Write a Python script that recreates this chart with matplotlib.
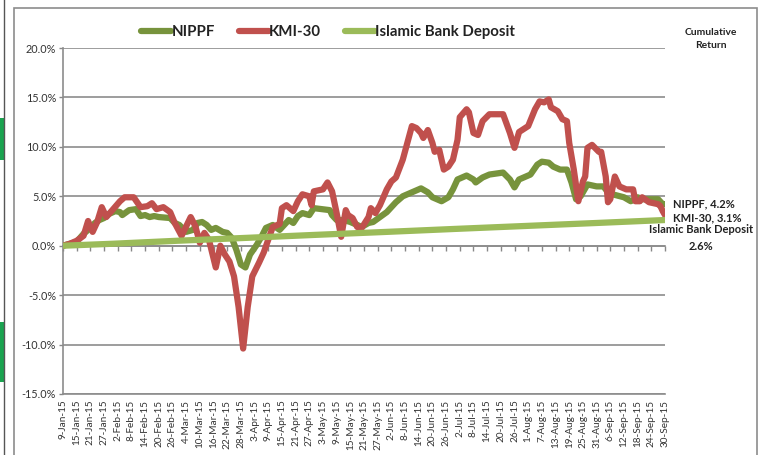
import matplotlib
matplotlib.use("Agg")
import matplotlib.pyplot as plt
from matplotlib.patches import Rectangle
from matplotlib.lines import Line2D
import pandas as pd

plt.rcParams['font.family'] = ['Lato', 'DejaVu Sans']

# ---------------- data (cumulative return, %) ----------------
nippf_dates = ['01-09', '01-15', '01-18', '01-21', '01-23', '01-25', '01-27', '01-29',
               '02-01', '02-03', '02-04', '02-07', '02-10', '02-12', '02-14', '02-16',
               '02-18', '02-20', '02-25', '02-27', '03-01', '03-04', '03-07', '03-09',
               '03-11', '03-13', '03-15', '03-17', '03-20', '03-22', '03-24', '03-26',
               '03-28', '03-30', '04-01', '04-04', '04-06', '04-08', '04-11', '04-14',
               '04-16', '04-18', '04-20', '04-22', '04-24', '04-27', '04-29', '05-06',
               '05-07', '05-09', '05-12', '05-15', '05-18', '05-20', '05-23', '05-25',
               '05-28', '05-31', '06-04', '06-07', '06-12', '06-15', '06-18', '06-20',
               '06-22', '06-24', '06-27', '06-29', '07-01', '07-05', '07-08', '07-09',
               '07-12', '07-15', '07-21', '07-24', '07-26', '07-28', '08-02', '08-05',
               '08-07', '08-10', '08-12', '08-15', '08-18', '08-20', '08-22', '08-24',
               '08-27', '08-31', '09-03', '09-05', '09-07', '09-12', '09-15', '09-18',
               '09-20', '09-27', '09-29', '09-30']
nippf_values = [0.0, 0.4, 1.2, 1.8, 2.3, 2.6, 2.8, 3.2,
                3.5, 3.4, 3.1, 3.6, 3.7, 3.0, 3.1, 2.9,
                3.0, 2.9, 2.8, 2.3, 2.1, 1.4, 1.6, 2.3,
                2.4, 2.1, 1.6, 1.8, 1.4, 1.3, 0.8, -0.4,
                -1.9, -2.2, -0.9, 0.1, 0.9, 1.8, 2.1, 1.6,
                2.1, 2.6, 2.3, 3.0, 3.3, 3.1, 3.8, 3.6,
                3.1, 2.6, 2.6, 2.4, 2.1, 1.9, 2.3, 2.4,
                2.9, 3.4, 4.4, 5.0, 5.5, 5.8, 5.4, 4.9,
                4.7, 4.5, 4.9, 5.7, 6.7, 7.1, 6.7, 6.4,
                6.9, 7.2, 7.4, 6.7, 5.9, 6.7, 7.2, 8.2,
                8.5, 8.4, 8.0, 7.7, 7.7, 6.4, 4.7, 5.0,
                6.2, 6.0, 6.0, 5.4, 5.2, 4.9, 4.5, 4.9,
                4.7, 4.7, 4.2, 4.2]

kmi_dates = ['01-09', '01-12', '01-15', '01-18', '01-20', '01-22', '01-24', '01-26',
             '01-28', '01-31', '02-03', '02-05', '02-09', '02-12', '02-15', '02-17',
             '02-19', '02-22', '02-25', '02-27', '03-02', '03-06', '03-08', '03-10',
             '03-12', '03-14', '03-17', '03-19', '03-21', '03-23', '03-25', '03-27',
             '03-29', '03-31', '04-02', '04-05', '04-07', '04-09', '04-11', '04-14',
             '04-15', '04-17', '04-20', '04-22', '04-24', '04-27', '04-28', '04-29',
             '05-03', '05-05', '05-07', '05-09', '05-11', '05-13', '05-14', '05-16',
             '05-18', '05-20', '05-23', '05-24', '05-26', '05-28', '05-31', '06-02',
             '06-04', '06-07', '06-09', '06-11', '06-13', '06-15', '06-16', '06-18',
             '06-20', '06-21', '06-23', '06-25', '06-27', '06-29', '07-01', '07-02',
             '07-05', '07-06', '07-08', '07-10', '07-12', '07-15', '07-21', '07-24',
             '07-26', '07-28', '08-01', '08-04', '08-06', '08-08', '08-10', '08-11',
             '08-14', '08-16', '08-18', '08-19', '08-21', '08-23', '08-25', '08-26',
             '08-27', '08-29', '09-01', '09-02', '09-04', '09-05', '09-06', '09-08',
             '09-10', '09-13', '09-16', '09-17', '09-19', '09-20', '09-23', '09-27',
             '09-28', '09-29', '09-30']
kmi_values = [0.0, 0.2, 0.5, 1.0, 2.5, 1.4, 2.4, 3.9,
              2.9, 3.7, 4.5, 4.9, 4.9, 3.9, 4.0, 4.3,
              3.7, 3.9, 3.4, 2.3, 1.0, 2.9, 2.0, 0.3,
              1.3, 0.6, -2.2, 0.0, -0.9, -1.6, -3.1, -6.2,
              -10.4, -6.2, -3.1, -1.7, -0.7, 0.6, 1.9, 2.2,
              3.8, 4.1, 3.5, 4.5, 5.2, 5.0, 4.1, 5.5,
              5.7, 6.4, 5.5, 3.3, 0.9, 3.6, 3.1, 2.8,
              1.9, 1.8, 2.9, 3.8, 3.3, 4.1, 5.7, 6.5,
              6.9, 8.7, 10.4, 12.1, 11.9, 11.4, 10.9, 11.7,
              10.4, 9.5, 9.7, 7.7, 8.0, 8.7, 10.7, 13.0,
              13.8, 13.5, 11.4, 11.2, 12.6, 13.3, 13.3, 11.4,
              9.9, 11.5, 12.1, 13.8, 14.6, 14.5, 14.8, 14.0,
              13.6, 12.8, 12.6, 10.4, 7.7, 4.5, 6.5, 7.0,
              9.9, 10.2, 9.5, 9.5, 7.0, 4.4, 4.7, 7.0,
              6.0, 5.7, 5.7, 4.5, 4.5, 4.9, 4.4, 4.2,
              4.0, 3.5, 3.1]

bank_dates = ['01-09', '01-31', '02-28', '03-31', '04-30', '05-31', '06-30',
              '07-31', '08-31', '09-30']
bank_values = [0.0, 0.2, 0.5, 0.8, 1.1, 1.4, 1.7, 2.0, 2.3, 2.6]

series_names = ['NIPPF', 'KMI-30', 'Islamic Bank Deposit']
series_colors = ['#77933C', '#C0504D', '#9BBB59']
y_ticks = [-15, -10, -5, 0, 5, 10, 15, 20]
year = '2015'
tick_step_days = 6


def to_dt(lst):
    return pd.to_datetime([f'{year}-{d}' for d in lst])


nx, kx, bx = to_dt(nippf_dates), to_dt(kmi_dates), to_dt(bank_dates)

# ---------------- figure ----------------
fig = plt.figure(figsize=(7.65, 4.55), dpi=100)
fig.patch.set_facecolor('white')

# spreadsheet clutter + chart frame
fig.add_artist(Rectangle((14 / 765, -0.05), (757 - 14) / 765, (455 - 8) / 455 + 0.05,
                         transform=fig.transFigure, fill=False, edgecolor='#8c8c8c',
                         linewidth=1.2))
fig.add_artist(Line2D([4 / 765, 4 / 765], [0, 1], transform=fig.transFigure,
                      color='#555555', linewidth=1.0))
fig.add_artist(Rectangle((0, (455 - 160) / 455), 5 / 765, 42 / 455,
                         transform=fig.transFigure, color='#1AA350', linewidth=0))
fig.add_artist(Rectangle((0, (455 - 382) / 455), 5 / 765, 60 / 455,
                         transform=fig.transFigure, color='#1AA350', linewidth=0))

ax = fig.add_axes([63 / 765, 61 / 455, (665 - 63) / 765, (394 - 48) / 455])

lw = 4.5
ax.plot(nx, nippf_values, color=series_colors[0], lw=lw, solid_joinstyle='round',
        solid_capstyle='round', label=series_names[0], zorder=3)
ax.plot(kx, kmi_values, color=series_colors[1], lw=lw, solid_joinstyle='round',
        solid_capstyle='round', label=series_names[1], zorder=4)
ax.plot(bx, bank_values, color=series_colors[2], lw=lw, solid_joinstyle='round',
        solid_capstyle='round', label=series_names[2], zorder=5)

# axes
ax.set_ylim(y_ticks[0], y_ticks[-1])
ax.set_yticks(y_ticks)
ax.set_yticklabels([f'{v:.1f}%' for v in y_ticks], fontsize=7.8, color='#333333')
ax.set_xlim(nx[0], nx[-1])
xt = pd.date_range(nx[0], nx[-1], freq=f'{tick_step_days}D')
ax.set_xticks(xt)
ax.set_xticklabels([f'{d.day}-{d.strftime("%b")}-{d.strftime("%y")}' for d in xt],
                   rotation=90, fontsize=7.2, color='#333333')
ax.tick_params(axis='x', length=0, pad=4)
ax.tick_params(axis='y', length=3, width=1, color='#888888', direction='out', pad=2)

ax.grid(axis='y', color='#8c8c8c', linewidth=1.2, zorder=1)
ax.set_axisbelow(True)
for s in ['top', 'right']:
    ax.spines[s].set_visible(False)
ax.spines['left'].set_color('#8c8c8c')
ax.spines['left'].set_linewidth(1.2)
ax.spines['bottom'].set_color('#8c8c8c')
ax.spines['bottom'].set_linewidth(1.2)

# horizontal axis crossing at 0 with tick marks
zero_frac = (0 - y_ticks[0]) / (y_ticks[-1] - y_ticks[0])
sec = ax.secondary_xaxis(zero_frac)
sec.set_xticks(xt)
sec.set_xticklabels([])
sec.tick_params(axis='x', length=3.5, width=1, color='#888888', direction='out')
sec.spines['bottom'].set_color('#8c8c8c')
sec.spines['bottom'].set_linewidth(1.2)

# legend
leg = ax.legend(loc='center', bbox_to_anchor=(0.44, 1.046), ncol=3, frameon=False,
                handlelength=2.0, handletextpad=0.0, columnspacing=1.6,
                borderpad=0.0, prop={'weight': 'bold', 'size': 10.8})
for t in leg.get_texts():
    t.set_color('#222222')

fig.text(711 / 765, 1 - 39 / 455, 'Cumulative\nReturn', ha='center', va='center',
         fontsize=7.4, fontweight='bold', color='#222222', linespacing=1.6)

# end-of-series data labels
lab_kw = dict(textcoords='offset points', fontsize=8, fontweight='bold',
              color='#222222', annotation_clip=False)
ax.annotate(f'{series_names[0]}, {nippf_values[-1]:.1f}%', xy=(nx[-1], nippf_values[-1]),
            xytext=(6, 0.5), ha='left', va='center', **lab_kw)
ax.annotate(f'{series_names[1]}, {kmi_values[-1]:.1f}%', xy=(kx[-1], kmi_values[-1]),
            xytext=(6, -2), ha='left', va='center', **lab_kw)
ax.annotate(f'{series_names[2]}\n{bank_values[-1]:.1f}%', xy=(bx[-1], bank_values[-1]),
            xytext=(26, -3), ha='center', va='top', linespacing=1.65, **lab_kw)

fig.savefig('out.png', dpi=100)
